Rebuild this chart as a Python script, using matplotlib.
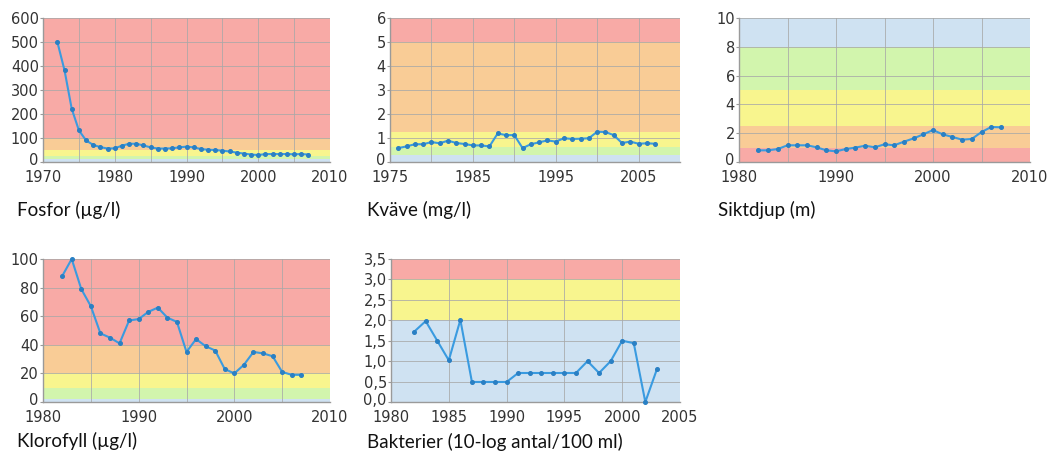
import matplotlib
matplotlib.use("Agg")
import matplotlib.pyplot as plt
import matplotlib.transforms as mtransforms
from matplotlib.ticker import FixedLocator, FixedFormatter, MultipleLocator

# ---------------- data ----------------
fosfor_years = list(range(1972, 2008))
fosfor_vals = [500, 382, 222, 132, 90, 71, 62, 56, 57, 68, 76, 76, 69, 61, 56, 56, 57, 61,
               64, 61, 54, 51, 50, 47, 44, 39, 35, 31, 29, 33, 33, 33, 33, 32, 33, 31]

kvave_years = list(range(1976, 2008))
kvave_vals = [0.58, 0.65, 0.74, 0.74, 0.83, 0.78, 0.89, 0.79, 0.75, 0.69, 0.69, 0.65,
              1.19, 1.12, 1.12, 0.58, 0.74, 0.82, 0.90, 0.85, 0.99, 0.96, 0.97, 0.99,
              1.26, 1.25, 1.12, 0.79, 0.85, 0.76, 0.78, 0.76]

sikt_years = list(range(1982, 2008))
sikt_vals = [0.81, 0.81, 0.90, 1.16, 1.16, 1.16, 1.02, 0.81, 0.74, 0.90, 1.00, 1.13, 1.02,
             1.23, 1.16, 1.41, 1.64, 1.92, 2.22, 1.92, 1.74, 1.55, 1.60, 2.08, 2.43, 2.41]

klorofyll_years = list(range(1982, 2008))
klorofyll_vals = [88, 100, 79, 67, 48, 45, 41, 57, 58, 63, 66, 59, 56, 35, 44, 39, 36, 23,
                  20, 26, 35, 34, 32, 21, 19, 19]

bakterier_years = list(range(1982, 2004))
bakterier_vals = [1.72, 1.98, 1.50, 1.02, 2.01, 0.49, 0.49, 0.49, 0.49, 0.71, 0.71, 0.71,
                  0.71, 0.71, 0.71, 1.00, 0.71, 1.00, 1.50, 1.44, 0.0, 0.80]

titles = ["Fosfor (µg/l)", "Kväve (mg/l)", "Siktdjup (m)", "Klorofyll (µg/l)",
          "Bakterier (10-log antal/100 ml)"]

# class boundaries (bottom->top) and colours
fosfor_bands = [0, 12.5, 25, 50, 100, 600]
kvave_bands = [0, 0.3, 0.625, 1.25, 5, 6]
sikt_bands = [0, 1, 2.5, 5, 8, 10]
klorofyll_bands = [0, 2, 10, 20, 40, 100]
bakterier_bands = [0, 2, 3, 3.5]

BLUE = "#cfe2f2"
GREEN = "#d2f5ad"
YELLOW = "#f8f58e"
ORANGE = "#f9cc96"
RED = "#f8aaa6"

fosfor_cols = [BLUE, GREEN, YELLOW, ORANGE, RED]
kvave_cols = [BLUE, GREEN, YELLOW, ORANGE, RED]
sikt_cols = [RED, ORANGE, YELLOW, GREEN, BLUE]
klorofyll_cols = [BLUE, GREEN, YELLOW, ORANGE, RED]
bakterier_cols = [BLUE, YELLOW, RED]

W, H = 1049, 459
fig = plt.figure(figsize=(W / 100, H / 100), dpi=100)
fig.patch.set_facecolor("white")


def add_axes(left, right, top, bottom):
    return fig.add_axes([left / W, 1 - bottom / H, (right - left) / W, (bottom - top) / H])


def panel(ax, years, vals, bands, cols, xlim, ylim, xticks, xgrid, yticks, ylabels=None):
    for lo, hi, c in zip(bands[:-1], bands[1:], cols):
        ax.axhspan(lo, hi, color=c, zorder=0, lw=0)
    ax.set_xlim(*xlim)
    ax.set_ylim(*ylim)
    ax.xaxis.set_major_locator(FixedLocator(xticks))
    ax.xaxis.set_minor_locator(MultipleLocator(xgrid))
    ax.yaxis.set_major_locator(FixedLocator(yticks))
    if ylabels is not None:
        ax.yaxis.set_major_formatter(FixedFormatter(ylabels))
    ax.grid(True, which="both", color="#a8a8a8", lw=0.7, alpha=0.8, zorder=1)
    ax.set_axisbelow(True)
    for s in ["top", "right"]:
        ax.spines[s].set_visible(False)
    for s in ["left", "bottom"]:
        ax.spines[s].set_color("#9a9a9a")
        ax.spines[s].set_linewidth(1.0)
    ax.tick_params(which="both", length=0, labelsize=10.5, colors="#333333")
    ax.tick_params(axis="x", pad=6)
    ax.tick_params(axis="y", which="major", length=2, color="#9a9a9a", pad=1)
    ax.set_facecolor("white")
    ax.plot(years, vals, color="#3a9be0", lw=1.5, marker="o", ms=2.6,
            mfc="#2a80c4", mec="#2a80c4", zorder=3, clip_on=False)


ax1 = add_axes(43, 330, 18, 162)
panel(ax1, fosfor_years, fosfor_vals, fosfor_bands, fosfor_cols, (1970, 2010), (0, 600),
      [1970, 1980, 1990, 2000, 2010], 5, [0, 100, 200, 300, 400, 500, 600])

ax2 = add_axes(390, 680, 18, 162)
panel(ax2, kvave_years, kvave_vals, kvave_bands, kvave_cols, (1975, 2010), (0, 6),
      [1975, 1985, 1995, 2005], 5, [0, 1, 2, 3, 4, 5, 6])

ax3 = add_axes(739, 1030, 18, 162)
panel(ax3, sikt_years, sikt_vals, sikt_bands, sikt_cols, (1980, 2010), (0, 10),
      [1980, 1990, 2000, 2010], 5, [0, 2, 4, 6, 8, 10])

ax4 = add_axes(43, 330, 259, 402)
panel(ax4, klorofyll_years, klorofyll_vals, klorofyll_bands, klorofyll_cols, (1980, 2010),
      (0, 100), [1980, 1990, 2000, 2010], 5, [0, 20, 40, 60, 80, 100])

ax5 = add_axes(391, 680, 259, 402)
bak_ticks = [0, 0.5, 1.0, 1.5, 2.0, 2.5, 3.0, 3.5]
bak_labels = ["0,0", "0,5", "1,0", "1,5", "2,0", "2,5", "3,0", "3,5"]
panel(ax5, bakterier_years, bakterier_vals, bakterier_bands, bakterier_cols, (1980, 2005),
      (0, 3.5), [1980, 1985, 1990, 1995, 2000, 2005], 5, bak_ticks, bak_labels)

title_pos = [(17, 210), (367, 210), (718, 210), (17, 441), (367, 442)]
for t, (x, y) in zip(titles, title_pos):
    fig.text(x / W, 1 - y / H, t, fontsize=13.5, family=["Lato", "DejaVu Sans"],
             color="#111111", ha="left", va="center")

# nudge the bottom y tick label ("0") up a little so it does not collide with the first year
fig.canvas.draw()
shift = mtransforms.ScaledTranslation(0, 3 / 100, fig.dpi_scale_trans)
for ax in [ax1, ax2, ax3, ax4, ax5]:
    lab = ax.yaxis.get_major_ticks()[0].label1
    lab.set_transform(lab.get_transform() + shift)

fig.savefig("out.png", dpi=100, facecolor="white")
